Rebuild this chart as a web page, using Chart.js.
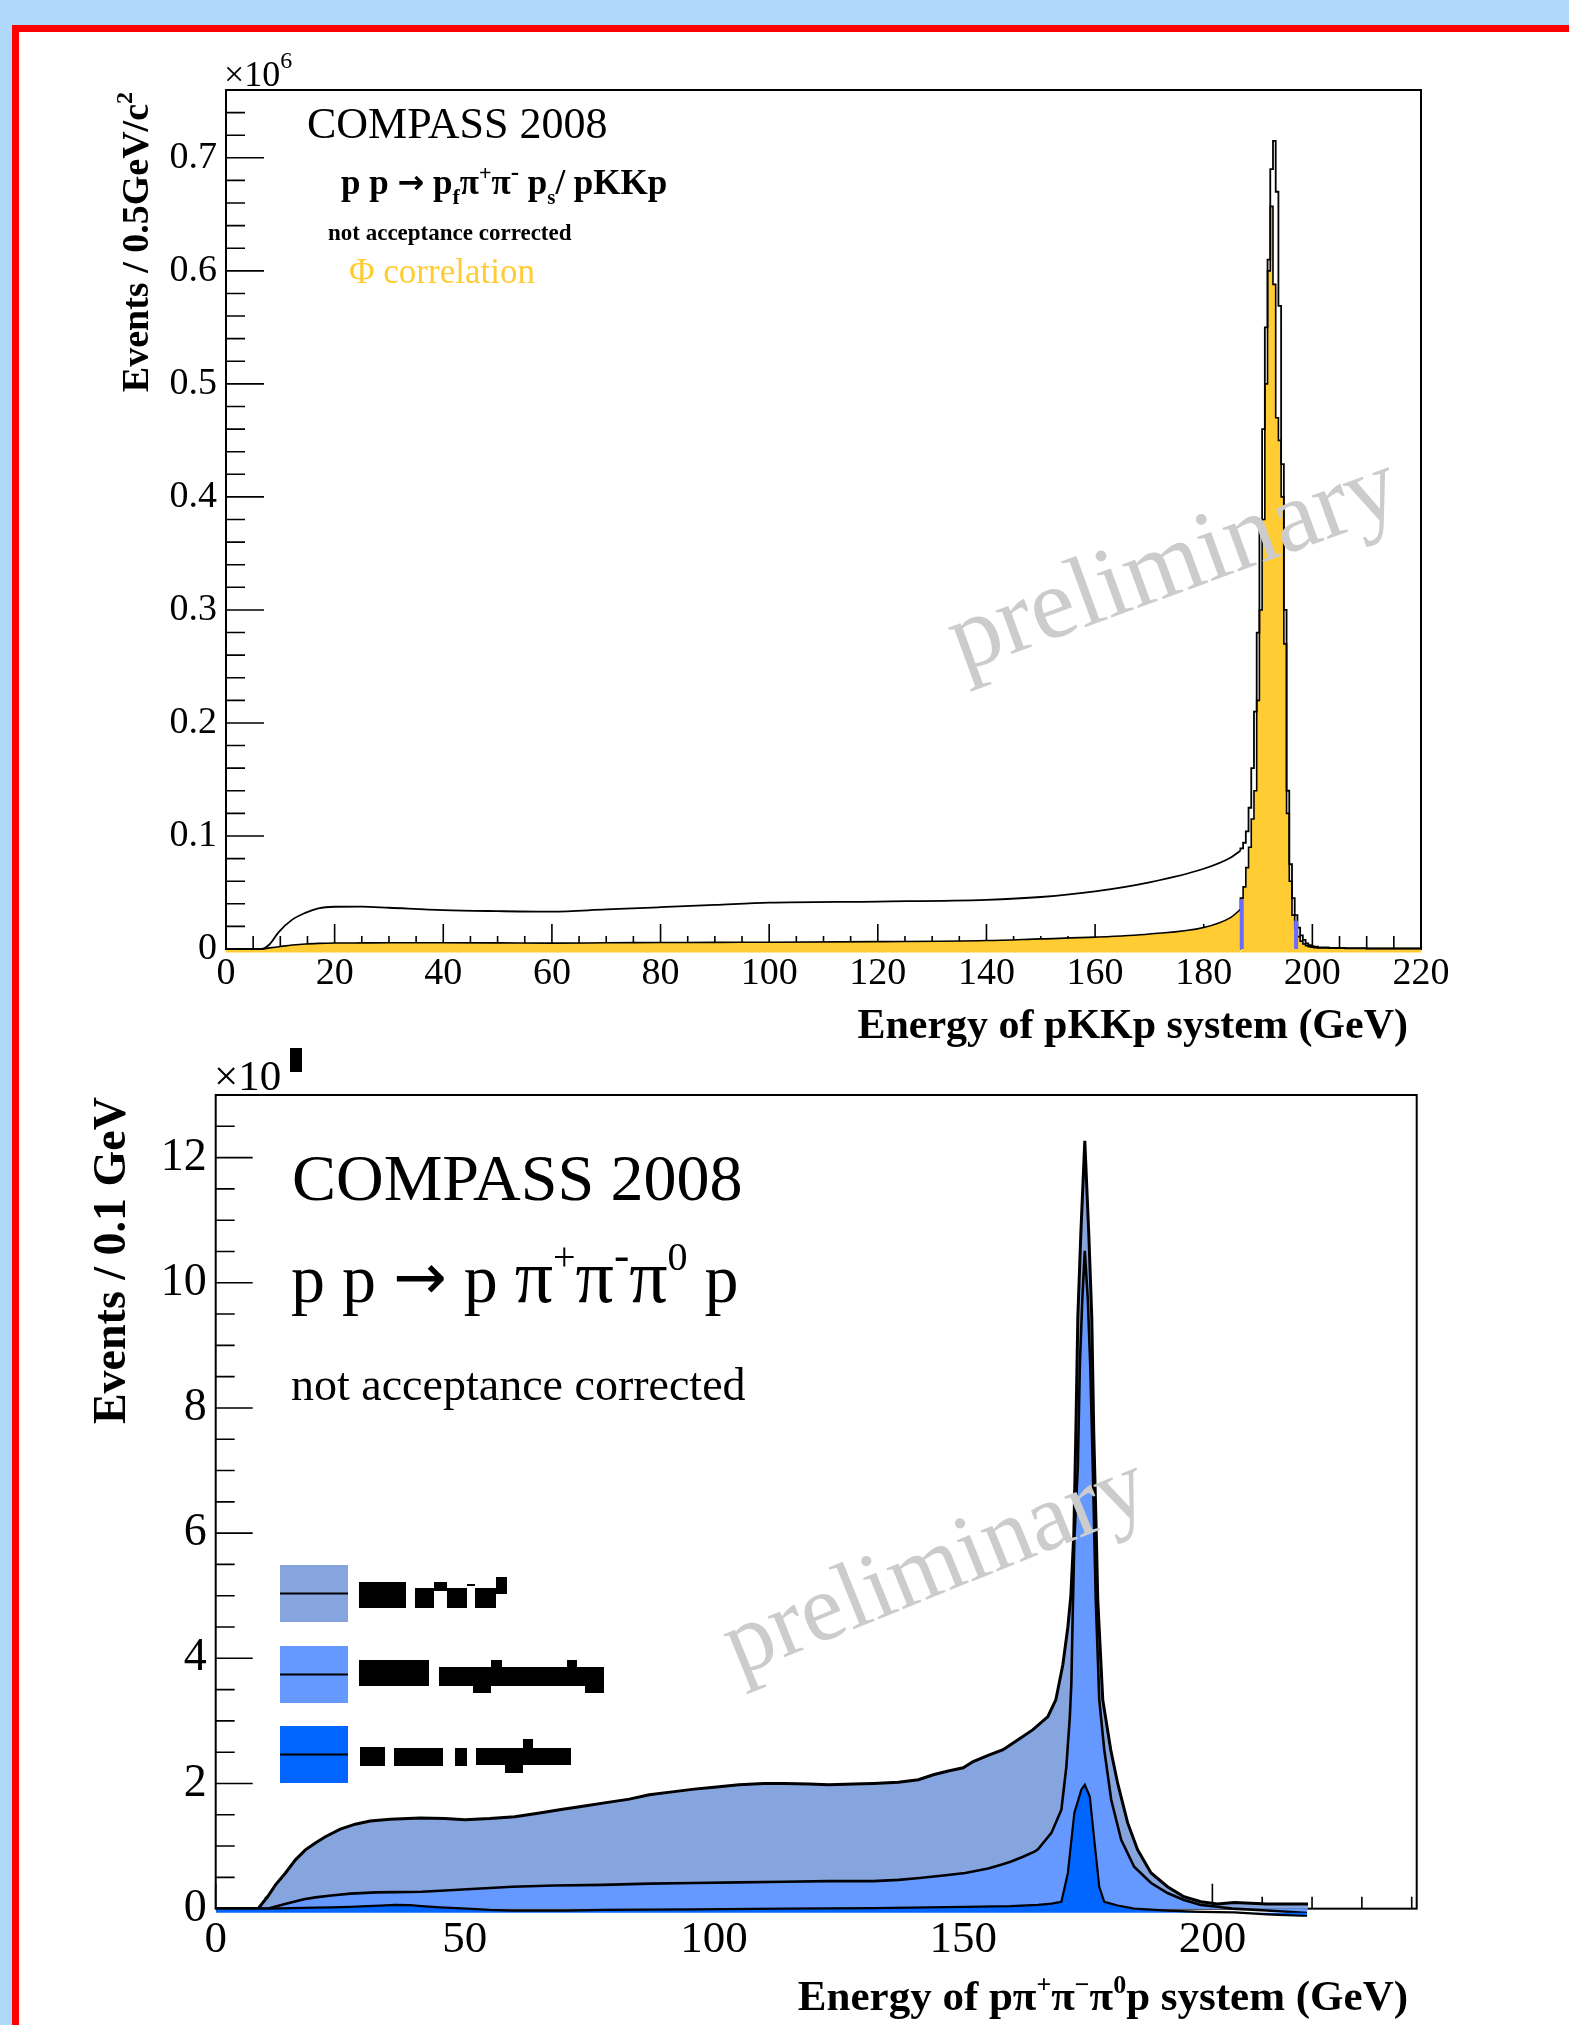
<!DOCTYPE html>
<html>
<head>
<meta charset="utf-8">
<title>COMPASS 2008 energy spectra</title>
<script src="https://cdn.jsdelivr.net/npm/chart.js@4.4.1/dist/chart.umd.min.js"></script>
<style>
  html, body { margin: 0; padding: 0; }
  body { width: 1569px; height: 2025px; background: #b0d8fa; position: relative; overflow: hidden; }
  #sheet { position: absolute; left: 12px; top: 25px; width: 1600px; height: 2100px; background: #fff;
           border-left: 7px solid #ff0000; border-top: 7px solid #ff0000; }
  canvas { position: absolute; left: 0; top: 0; width: 1569px; height: 2025px; }
</style>
</head>
<body>
<div id="sheet"></div>
<canvas id="topChart" width="1569" height="2025"></canvas>
<canvas id="bottomChart" width="1569" height="2025"></canvas>
<script>
  'use strict';

  // ---- top panel: energy of pKKp system (x10^6 events / 0.5 GeV) ----
  // smooth continuum below the phi peak
  const topContX = [0, 6.5, 8, 9.7, 12.2, 14.6, 17, 20, 25, 30, 40, 50, 60, 70, 80, 90, 100, 120, 140, 150, 160, 170, 180, 185, 186.75];
  const topAllContY = [0, 0, 0.004, 0.015, 0.026, 0.032, 0.036, 0.0374, 0.0375, 0.0365, 0.0344, 0.0335, 0.033, 0.035, 0.037, 0.039, 0.041, 0.042, 0.0435, 0.046, 0.051, 0.059, 0.071, 0.081, 0.087];
  const topPhiContY = [0, 0, 0.001, 0.002, 0.0035, 0.0045, 0.005, 0.0053, 0.0054, 0.0055, 0.0055, 0.0054, 0.0052, 0.0055, 0.0057, 0.0059, 0.006, 0.0065, 0.0075, 0.009, 0.0105, 0.0133, 0.019, 0.028, 0.035];
  // 0.5 GeV bins around the peak (left bin edges), then the tail
  const topPeakEdges = [186.75, 187.25, 187.75, 188.25, 188.75, 189.25, 189.75, 190.25, 190.75, 191.25, 191.75, 192.25,
    192.75, 193.25, 193.75, 194.25, 194.75, 195.25, 195.75, 196.25, 196.75, 197.25, 197.75, 198.25, 198.75, 199.25,
    199.75, 200.25, 201, 203, 206, 210, 215, 220];
  const topAllPeakY = [0.087, 0.089, 0.094, 0.104, 0.125, 0.16, 0.21, 0.28, 0.37, 0.46, 0.55, 0.61,
    0.69, 0.715, 0.67, 0.569, 0.429, 0.30, 0.14, 0.075, 0.045, 0.030, 0.019, 0.012, 0.008, 0.005,
    0.0035, 0.0025, 0.002, 0.0015, 0.001, 0.0008, 0.0006, 0.0006];
  const topPhiPeakY = [0.035, 0.045, 0.055, 0.072, 0.09, 0.115, 0.14, 0.22, 0.30, 0.38, 0.50, 0.60,
    0.657, 0.588, 0.47, 0.45, 0.40, 0.27, 0.12, 0.06, 0.030, 0.018, 0.011, 0.007, 0.0045, 0.003,
    0.002, 0.0015, 0.0012, 0.001, 0.0007, 0.0005, 0.0003, 0.0003];
  // blue cut markers of the phi window
  const phiCutX = [187, 197];
  const phiCutY = [0.044, 0.025];

  // ---- bottom panel: energy of p pi+ pi- pi0 p system (events / 0.1 GeV) ----
  const allX = [0, 8.5, 10.4, 12, 14, 16, 18, 20, 22, 25, 28, 31, 35, 41, 46, 50, 55, 60, 65, 69, 74, 78, 83, 87, 92, 96,
    100, 105, 110, 114, 119, 123, 128, 132, 137, 141, 144, 147, 150, 152, 155, 158, 161, 164, 167, 168.6, 170, 171,
    171.6, 172.2, 172.6, 173, 173.6, 174.4, 175.2, 175.8, 176.2, 176.7, 177, 178, 179.6, 181, 183, 185, 187.7, 191,
    194.3, 197.7, 201, 204.4, 211, 219.2];
  const allY = [0, 0, 0.19, 0.38, 0.57, 0.78, 0.94, 1.05, 1.15, 1.27, 1.35, 1.40, 1.43, 1.45, 1.44, 1.42, 1.44, 1.47,
    1.53, 1.58, 1.64, 1.69, 1.75, 1.82, 1.87, 1.91, 1.94, 1.98, 2.0, 2.0, 1.99, 1.98, 1.99, 2.0, 2.02, 2.06, 2.14, 2.2,
    2.25, 2.35, 2.45, 2.54, 2.70, 2.86, 3.07, 3.34, 3.9, 4.5, 5.0, 6.0, 7.6, 9.45, 10.78, 12.27, 10.78, 9.45, 7.6, 6.0,
    4.94, 3.34, 2.54, 2.0, 1.37, 0.94, 0.57, 0.35, 0.19, 0.11, 0.075, 0.1, 0.075, 0.075];
  const omegaX = [0, 10.4, 14.1, 17.7, 20, 23.2, 27, 32.2, 36, 41.3, 46, 50.4, 55, 59.5, 68, 77.7, 87, 95.9, 105, 114,
    123, 132, 137, 141.3, 146, 150.4, 155, 157.6, 159.5, 162, 164.3, 165, 167.7, 169.7, 170.7, 171.4, 171.7, 172.0,
    172.3, 173, 173.4, 173.9, 174.4, 175, 175.5, 176, 176.3, 176.6, 177.3, 178.3, 179.7, 181.7, 184.3, 187.7, 191,
    194.3, 197.7, 201, 204, 211, 219];
  const omegaY = [0, 0, 0.08, 0.15, 0.18, 0.21, 0.24, 0.26, 0.265, 0.27, 0.29, 0.31, 0.33, 0.35, 0.37, 0.38, 0.40,
    0.41, 0.42, 0.43, 0.44, 0.44, 0.46, 0.49, 0.53, 0.57, 0.64, 0.70, 0.75, 0.83, 0.91, 0.95, 1.21, 1.58, 2.27, 3.07,
    3.6, 4.8, 5.9, 7.07, 8.67, 9.74, 10.51, 9.74, 8.67, 7.07, 6.0, 4.94, 3.34, 2.54, 1.74, 1.1, 0.67, 0.41, 0.25,
    0.14, 0.06, 0.03, 0, -0.03, -0.07];
  const massX = [0, 10.4, 15, 20, 23.2, 27, 30.4, 33, 36, 39, 41.3, 45, 50.4, 55, 59.5, 70, 77.7, 95.9, 114, 132,
    150.4, 159.5, 165, 167.7, 169.7, 171, 172.3, 173.7, 174.4, 175.4, 176.3, 177.3, 178.3, 181, 184.3, 191, 197.7,
    204.4, 211, 219];
  const massY = [0, 0, 0.01, 0.015, 0.02, 0.03, 0.04, 0.05, 0.06, 0.055, 0.04, 0.02, 0.0, -0.02, -0.03, -0.03, -0.02,
    -0.01, 0.0, 0.01, 0.03, 0.04, 0.06, 0.08, 0.11, 0.57, 1.53, 1.9, 1.98, 1.79, 1.1, 0.35, 0.11, 0.05, 0.0, -0.03,
    -0.05, -0.06, -0.09, -0.12];

  const serif = "'Liberation Serif', 'Times New Roman', serif";
  const arrowFont = "'DejaVu Sans', sans-serif";
  const yellow = '#ffcc33';
  const blues = ['#86a5de', '#6699ff', '#0066ff'];

  function pts(xs, ys) {
    return xs.map((x, i) => ({ x: x, y: ys[i] }));
  }

  // draws a run of text pieces: [text, size, weight, dy, family]
  function pieceFont(p) {
    return (p[2] || 'normal') + ' ' + p[1] + 'px ' + (p[4] || serif);
  }

  function richText(ctx, x, y, parts, align) {
    let total = 0;
    parts.forEach(p => {
      ctx.font = pieceFont(p);
      total += ctx.measureText(p[0]).width;
    });
    let cx = align === 'right' ? x - total : x;
    ctx.textAlign = 'left';
    ctx.textBaseline = 'alphabetic';
    parts.forEach(p => {
      ctx.font = pieceFont(p);
      ctx.fillText(p[0], cx, y + (p[3] || 0));
      cx += ctx.measureText(p[0]).width;
    });
  }

  function watermark(ctx, x, y, size, angle) {
    ctx.save();
    ctx.translate(x, y);
    ctx.rotate(-angle * Math.PI / 180);
    ctx.fillStyle = '#cccccc';
    ctx.font = size + 'px ' + serif;
    ctx.textAlign = 'left';
    ctx.textBaseline = 'alphabetic';
    ctx.fillText('preliminary', 0, 0);
    ctx.restore();
  }

  // ROOT style frame with ticks pointing inwards, plus the panel texts
  function panelPlugin(cfg) {
    return {
      id: 'rootPanel',
      beforeDatasetsDraw(chart) {
        const ctx = chart.ctx;
        const xs = chart.scales.x, ys = chart.scales.y;
        const area = chart.chartArea;
        const y0 = ys.getPixelForValue(0);
        ctx.save();
        ctx.strokeStyle = '#000';
        ctx.lineWidth = 2;
        ctx.strokeRect(area.left, area.top, area.right - area.left, y0 - area.top);
        ctx.lineWidth = 1.6;
        ctx.beginPath();
        const xPer = Math.round(cfg.xMajor / cfg.xMinor);
        for (let i = 0; i * cfg.xMinor <= cfg.xMax + 1e-9; i++) {
          const px = xs.getPixelForValue(i * cfg.xMinor);
          const len = i % xPer === 0 ? cfg.xMajorLen : cfg.xMinorLen;
          ctx.moveTo(px, y0);
          ctx.lineTo(px, y0 - len);
        }
        const yPer = Math.round(cfg.yMajor / cfg.yMinor);
        for (let i = 0; i * cfg.yMinor <= cfg.yMax + 1e-9; i++) {
          const py = ys.getPixelForValue(i * cfg.yMinor);
          const len = i % yPer === 0 ? cfg.yMajorLen : cfg.yMinorLen;
          ctx.moveTo(area.left, py);
          ctx.lineTo(area.left + len, py);
        }
        ctx.stroke();
        ctx.restore();
      },
      afterDraw(chart) {
        const ctx = chart.ctx;
        ctx.save();
        ctx.fillStyle = '#000';
        cfg.texts(ctx);
        ctx.restore();
      }
    };
  }

  function baseOptions(pad, xMax, xStep, xFont, yMin, yMax, yStep, yFont, yFormat) {
    return {
      responsive: false,
      animation: false,
      layout: { padding: pad },
      plugins: { legend: { display: false }, tooltip: { enabled: false } },
      elements: { point: { radius: 0 } },
      scales: {
        x: {
          type: 'linear', min: 0, max: xMax,
          grid: { display: false, drawTicks: false },
          border: { display: false },
          ticks: { stepSize: xStep, autoSkip: false, maxRotation: 0, includeBounds: false, padding: 1,
                   color: '#000', font: { family: serif, size: xFont, lineHeight: 1 } },
          afterFit: s => { s.height = 60; }
        },
        y: {
          type: 'linear', min: yMin, max: yMax,
          grid: { display: false, drawTicks: false },
          border: { display: false },
          ticks: { stepSize: yStep, autoSkip: false, includeBounds: false, padding: 9,
                   color: '#000', font: { family: serif, size: yFont }, callback: yFormat },
          afterFit: s => { s.width = 100; }
        }
      }
    };
  }

  // ---------------- top chart ----------------
  const topTexts = function (ctx) {
    richText(ctx, 224, 86, [['×10', 36], ['6', 24, 'normal', -18]]);
    richText(ctx, 307, 138, [['COMPASS 2008', 44]]);
    richText(ctx, 341, 194, [['p p ', 35, 'bold'], ['→', 32, 'bold', -1, arrowFont], [' p', 35, 'bold'],
      ['f', 22, 'bold', 10], ['π', 35, 'bold'], ['+', 22, 'bold', -14], ['π', 35, 'bold'], ['-', 25, 'bold', -14],
      [' p', 35, 'bold'], ['s', 21, 'bold', 10], ['/ pKKp', 35, 'bold']]);
    richText(ctx, 328, 240, [['not acceptance corrected', 23, 'bold']]);
    ctx.fillStyle = yellow;
    richText(ctx, 349, 283, [['Φ correlation', 35]]);
    ctx.fillStyle = '#000';
    richText(ctx, 1408, 1038, [['Energy of pKKp system (GeV)', 42, 'bold']], 'right');
    ctx.save();
    ctx.translate(148, 92);
    ctx.rotate(-Math.PI / 2);
    richText(ctx, 0, 0, [['Events / 0.5GeV/c', 38, 'bold'], ['2', 24, 'bold', -16]], 'right');
    ctx.restore();
    watermark(ctx, 962, 672, 101, 20);
  };

  new Chart(document.getElementById('topChart'), {
    type: 'line',
    data: {
      datasets: [
        { label: 'all continuum', data: pts(topContX, topAllContY), borderColor: '#000', borderWidth: 1.8,
          fill: false, cubicInterpolationMode: 'monotone', order: 1 },
        { label: 'all peak', data: pts(topPeakEdges, topAllPeakY), borderColor: '#000', borderWidth: 1.8,
          fill: false, stepped: 'after', order: 1 },
        { label: 'phi continuum', data: pts(topContX, topPhiContY), borderColor: '#000', borderWidth: 1.6,
          backgroundColor: yellow, fill: { value: -0.003 }, cubicInterpolationMode: 'monotone', order: 2 },
        { label: 'phi peak', data: pts(topPeakEdges, topPhiPeakY), borderColor: '#000', borderWidth: 1.6,
          backgroundColor: yellow, fill: { value: -0.003 }, stepped: 'after', order: 2 },
        { label: 'cut low', data: pts([phiCutX[0], phiCutX[0]], [0, phiCutY[0]]), borderColor: '#6b6bff',
          borderWidth: 4, fill: false, order: 0 },
        { label: 'cut high', data: pts([phiCutX[1], phiCutX[1]], [0, phiCutY[1]]), borderColor: '#6b6bff',
          borderWidth: 4, fill: false, order: 0 }
      ]
    },
    options: baseOptions({ left: 126, right: 148, top: 90, bottom: 1010.9 }, 220, 20, 38,
      -0.0045, 0.76, 0.1, 38, v => (v === 0 ? '0' : v.toFixed(1))),
    plugins: [panelPlugin({
      xMax: 220, xMajor: 20, xMinor: 5, xMajorLen: 25, xMinorLen: 13,
      yMax: 0.76, yMajor: 0.1, yMinor: 0.02, yMajorLen: 38, yMinorLen: 19,
      texts: topTexts
    })]
  });

  // ---------------- bottom chart ----------------
  // garbled legend glyphs in the original, drawn as the black blocks they show
  const legendBlocks = [
    [359, 1582, 47, 26], [415, 1588, 19, 20], [434, 1582, 13, 9], [447, 1588, 20, 20], [467, 1584, 8, 2],
    [475, 1588, 21, 20], [496, 1577, 11, 17],
    [359, 1660, 70, 26], [439, 1667, 165, 19], [473, 1685, 18, 8], [491, 1660, 11, 7], [567, 1660, 10, 7],
    [585, 1685, 19, 8],
    [360, 1747, 25, 19], [394, 1748, 49, 18], [455, 1748, 12, 18], [476, 1748, 95, 17], [505, 1765, 18, 8],
    [523, 1739, 10, 9]
  ];
  const legendBoxY = [1565, 1646, 1726];

  const bottomTexts = function (ctx) {
    richText(ctx, 214, 1090, [['×10', 43]]);
    ctx.fillRect(290, 1048, 12, 24);
    richText(ctx, 292, 1200, [['COMPASS 2008', 66]]);
    richText(ctx, 291, 1302, [['p p ', 68], ['→', 64, 'normal', -3, arrowFont], [' p ', 68], ['π', 76],
      ['+', 40, 'normal', -32], ['π', 76], ['-', 46, 'normal', -32], ['π', 76], ['0', 40, 'normal', -32], [' p', 68]]);
    richText(ctx, 291, 1400, [['not acceptance corrected', 46]]);
    richText(ctx, 1408, 2010, [['Energy of p', 43, 'bold'], ['π', 43, 'bold'], ['+', 26, 'bold', -17], ['π', 43, 'bold'],
      ['−', 26, 'bold', -17], ['π', 43, 'bold'], ['0', 26, 'bold', -17], ['p system (GeV)', 43, 'bold']], 'right');
    ctx.save();
    ctx.translate(125, 1097);
    ctx.rotate(-Math.PI / 2);
    richText(ctx, 0, 0, [['Events / 0.1 GeV', 46, 'bold']], 'right');
    ctx.restore();

    // legend boxes with the line through them
    legendBoxY.forEach((y, i) => {
      ctx.fillStyle = blues[i];
      ctx.fillRect(280, y, 68, 57);
      ctx.strokeStyle = '#000';
      ctx.lineWidth = 2;
      ctx.beginPath();
      ctx.moveTo(280, y + 28.5);
      ctx.lineTo(348, y + 28.5);
      ctx.stroke();
    });
    ctx.fillStyle = '#000';
    legendBlocks.forEach(b => ctx.fillRect(b[0], b[1], b[2], b[3]));

    watermark(ctx, 738, 1676, 96, 22);
  };

  new Chart(document.getElementById('bottomChart'), {
    type: 'line',
    data: {
      datasets: [
        { label: 'all', data: pts(allX, allY), borderColor: '#000', borderWidth: 3,
          backgroundColor: blues[0], fill: { value: 0 }, order: 3 },
        { label: 'omega region', data: pts(omegaX, omegaY), borderColor: '#000', borderWidth: 2.6,
          backgroundColor: blues[1], fill: { value: 0 }, order: 2 },
        { label: 'mass region', data: pts(massX, massY), borderColor: '#000', borderWidth: 2.2,
          backgroundColor: blues[2], fill: { value: -0.065 }, order: 1 }
      ]
    },
    options: baseOptions({ left: 115.7, right: 152.3, top: 1095, bottom: 48.2 }, 241, 50, 45,
      -0.13, 13, 2, 46, v => String(v)),
    plugins: [panelPlugin({
      xMax: 241, xMajor: 50, xMinor: 10, xMajorLen: 25, xMinorLen: 12,
      yMax: 13, yMajor: 2, yMinor: 0.5, yMajorLen: 37, yMinorLen: 19,
      texts: bottomTexts
    })]
  });
</script>
</body>
</html>
